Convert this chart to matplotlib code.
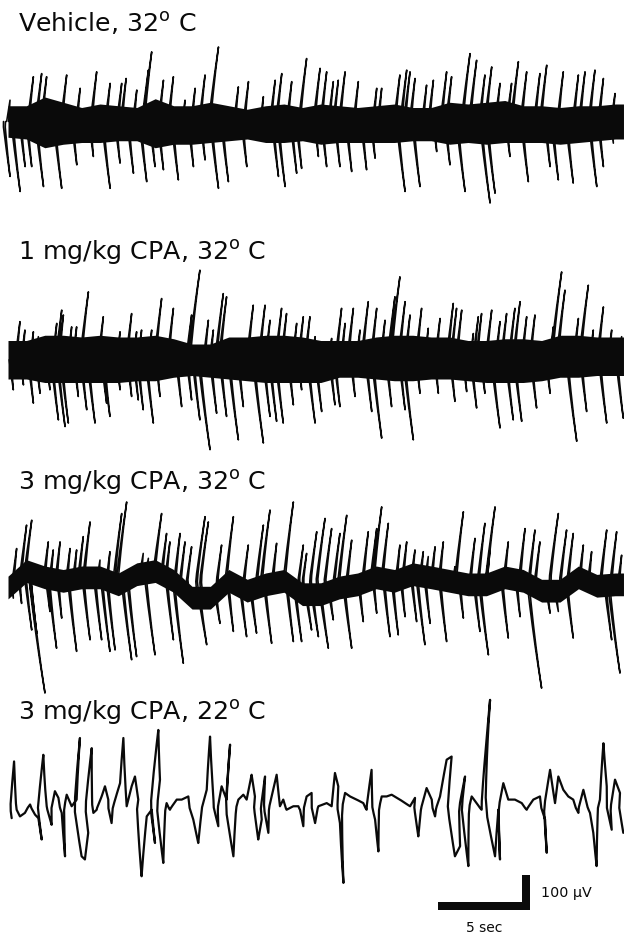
import numpy as np
import matplotlib
matplotlib.use("Agg")
import matplotlib.pyplot as plt

# ---------------------------------------------------------------- data
titles = ["Vehicle, 32$^{\\mathrm{o}}$ C",
          "1 mg/kg CPA, 32$^{\\mathrm{o}}$ C",
          "3 mg/kg CPA, 32$^{\\mathrm{o}}$ C",
          "3 mg/kg CPA, 22$^{\\mathrm{o}}$ C"]

band_sec = [0, 1, 2, 3, 4, 5, 6, 7, 8, 9, 10, 11, 12, 13, 14, 15, 16, 17, 18, 19,
            20, 21, 22, 23, 24, 25, 26, 27, 28, 29, 30, 31, 32, 33, 33.45]

# trace 1 : vehicle, 32 C
tr1_band_hi = [55, 55, 80, 65, 50, 60, 55, 50, 75, 55, 55, 65, 55, 45, 55, 60, 50, 60,
               55, 50, 55, 60, 50, 50, 65, 60, 65, 70, 55, 55, 50, 55, 55, 60, 60]
tr1_band_lo = [-35, -40, -65, -55, -50, -50, -45, -45, -65, -55, -55, -50, -45, -40, -50,
               -50, -45, -55, -50, -50, -50, -50, -45, -45, -55, -50, -55, -50, -50, -50,
               -55, -50, -45, -40, -40]
tr1_up_sec = [0.11, 1.38, 1.83, 2.10, 3.19, 3.92, 4.82, 5.55, 6.18, 6.42, 7.00, 7.63, 7.81,
              8.45, 8.99, 9.62, 10.17, 10.71, 11.44, 12.52, 13.07, 13.88, 14.52, 14.88,
              15.42, 16.23, 16.96, 17.32, 17.68, 17.95, 18.32, 19.04, 20.04, 20.31, 21.30,
              21.67, 21.85, 22.12, 22.75, 23.12, 23.84, 24.11, 25.11, 25.47, 25.92, 26.29,
              26.74, 27.37, 27.74, 28.19, 28.91, 29.28, 30.18, 31.00, 31.36, 31.90, 32.36,
              32.99]
tr1_up_uv = [71, 138, 147, 138, 143, 105, 152, 119, 119, 133, 100, 157, 209, 128, 138, 71,
             105, 143, 223, 109, 124, 81, 128, 147, 124, 190, 162, 152, 124, 128, 152, 124,
             105, 105, 143, 157, 152, 133, 114, 128, 152, 138, 204, 185, 143, 166, 119, 119,
             181, 152, 147, 171, 152, 143, 152, 157, 133, 90]
tr1_dn_sec = [0.11, 0.66, 0.93, 1.29, 1.93, 2.92, 3.74, 4.64, 5.55, 6.09, 6.82, 7.54, 7.99,
              8.45, 9.26, 10.08, 10.71, 11.44, 11.98, 12.98, 14.70, 15.06, 15.69, 15.96,
              16.87, 17.32, 18.04, 18.68, 19.49, 19.95, 21.58, 22.39, 23.30, 24.02, 24.84,
              26.20, 26.47, 27.28, 28.28, 29.46, 29.91, 30.72, 32.00, 32.36, 32.90]
tr1_dn_uv = [-147, -190, -119, -119, -176, -181, -114, -90, -181, -109, -138, -162, -119,
             -128, -157, -119, -100, -181, -162, -119, -147, -176, -138, -124, -90, -119,
             -119, -133, -128, -95, -190, -176, -76, -114, -190, -223, -195, -90, -162,
             -119, -157, -166, -176, -119, -52]

# trace 2 : 1 mg/kg CPA, 32 C
tr2_band_hi = [50, 50, 65, 65, 60, 65, 60, 60, 65, 55, 40, 40, 60, 60, 65, 65, 60, 50,
               50, 50, 60, 65, 65, 60, 60, 50, 50, 55, 55, 50, 65, 65, 60, 60, 60]
tr2_band_lo = [-60, -60, -70, -70, -70, -70, -70, -65, -65, -55, -50, -55, -60, -65, -70,
               -70, -70, -70, -55, -55, -60, -65, -65, -60, -60, -65, -70, -70, -70, -65,
               -55, -55, -50, -50, -50]
tr2_up_sec = [0.65, 0.92, 1.38, 1.65, 2.19, 2.65, 2.92, 3.01, 3.46, 3.73, 4.37, 5.18, 5.54,
              6.09, 6.72, 6.99, 7.26, 7.81, 8.35, 8.99, 9.98, 10.43, 10.89, 11.16, 11.70,
              11.88, 12.52, 13.33, 13.97, 14.24, 14.87, 15.14, 15.69,
              16.05, 16.41, 16.69, 17.59, 18.13, 18.32, 18.77, 19.13, 19.58, 20.04, 20.49,
              21.03, 21.30, 21.58, 21.85, 22.12, 22.48, 22.84, 23.48, 24.20, 24.38, 24.66,
              25.29, 25.56, 25.74, 26.29, 26.74, 27.10, 27.55, 27.83, 28.19, 28.64, 29.09,
              29.64, 30.09, 30.27, 31.00, 31.54, 31.81, 32.36, 32.81, 33.35]
tr2_up_uv = [104, 80, 75, 61, 51, 99, 137, 123, 89, 89, 189, 118, 56, 75, 127, 75, 80, 80,
             170, 142, 123, 251, 108, 80, 184, 175, 47, 151, 151, 108, 142, 127, 99,
             118, 118, 61, 56, 142, 99, 142, 80, 161, 142, 108, 175, 232, 161, 123, 51, 142,
             85, 113, 156, 142, 137, 70, 118, 127, 137, 104, 127, 142, 161, 118, 123, 42, 89,
             246, 194, 113, 208, 80, 146, 80, 61]
tr2_dn_sec = [0.29, 0.84, 1.38, 1.74, 2.28, 2.74, 3.10, 3.28, 3.82, 4.28, 4.73, 5.36, 5.54,
              6.09, 6.72, 7.08, 7.35, 7.90, 8.26, 9.44, 9.98, 10.43, 10.98, 11.34, 11.88,
              12.52, 12.79, 13.88, 14.24, 14.60, 14.96, 15.51,
              15.96, 16.69, 17.05, 17.77, 18.04, 18.86, 19.77, 20.31, 20.85, 21.58, 22.03,
              22.39, 23.39, 24.29, 24.93, 25.47, 25.92, 26.74, 27.46, 27.92, 28.73, 29.46,
              30.91, 31.45, 32.54, 33.44]
tr2_dn_uv = [-91, -77, -129, -101, -91, -177, -196, -186, -110, -148, -186, -129, -167, -91,
             -110, -120, -148, -186, -110, -139, -120, -177, -262, -158, -167, -234, -139,
             -243, -167, -181, -186, -134,
             -91, -186, -153, -134, -139, -110, -153, -229, -139, -148, -234, -101, -101,
             -124, -96, -143, -101, -200, -177, -181, -143, -101, -238, -153, -186, -172]

# trace 3 : 3 mg/kg CPA, 32 C
tr3_band_hi = [11, 58, 40, 30, 40, 40, 20, 49, 58, 30, -18, -18, 30, 2, 20, 30, -8, -8, 11,
               20, 40, 30, 49, 40, 30, 20, 20, 40, 30, 2, 2, 40, 16, 20, 20]
tr3_band_lo = [-54, -7, -25, -35, -25, -25, -45, -16, -7, -35, -83, -83, -35, -63, -45, -35,
               -73, -73, -54, -45, -25, -35, -16, -25, -35, -45, -45, -25, -35, -63, -63,
               -25, -49, -45, -45]
tr3_up_sec = [0.47, 1.01, 1.29, 2.19, 2.46, 2.83, 3.37, 3.73, 4.09, 4.46, 5.00, 5.54, 6.18,
              6.45, 7.17, 7.35, 7.63, 8.35, 8.62, 8.80, 9.35, 9.62, 9.98, 10.71, 10.89,
              11.61, 12.25, 13.06, 13.88, 14.24, 14.60, 15.51,
              16.05, 16.23, 16.78, 17.23, 17.59, 18.04, 18.41, 18.68, 19.58, 20.04, 20.31,
              20.67, 21.30, 21.67, 22.12, 22.57, 22.84, 23.21, 23.66, 24.29, 24.75, 25.38,
              25.92, 26.20, 26.47, 27.19, 28.10, 28.64, 28.91, 29.91, 30.36, 30.72, 31.27,
              31.72, 32.54, 33.08, 33.35]
tr3_up_uv = [90, 157, 171, 109, 86, 109, 90, 86, 124, 166, 57, 81, 190, 223, 38, 76, 62, 190,
             133, 109, 133, 109, 95, 181, 166, 100, 181, 100, 157, 200, 105, 223,
             100, 76, 138, 176, 147, 133, 185, 114, 138, 147, 209, 162, 100, 109, 86, 81, 67,
             95, 109, 38, 195, 119, 162, 90, 209, 109, 147, 143, 109, 190, 143, 133, 100, 81,
             143, 138, 71]
tr3_dn_sec = [0.29, 0.74, 1.29, 1.56, 2.01, 2.28, 2.64, 2.92, 3.73, 4.46, 5.09, 5.54, 5.82,
              6.72, 6.99, 7.99, 8.99, 9.53, 10.80, 11.52, 12.25, 12.97, 13.51, 14.33, 15.51,
              15.96, 16.50, 16.87, 17.41, 17.68, 18.68, 19.31, 20.04, 20.76, 21.21, 21.58,
              22.21, 22.66, 22.94, 23.84, 24.75, 25.65, 26.11, 27.19, 27.83, 29.00, 29.46,
              29.91, 30.72, 32.81, 33.26]
tr3_dn_uv = [-52, -67, -143, -152, -323, -90, -195, -109, -204, -171, -171, -204, -200,
             -228, -219, -214, -171, -238, -185, -124, -147, -162, -152, -181, -176,
             -176, -143, -162, -195, -114, -195, -119, -95, -162, -157, -105, -119, -185,
             -124, -176, -109, -147, -214, -166, -105, -309, -95, -90, -166, -171, -266]

# trace 4 : 3 mg/kg CPA, 22 C (single pen line, positions as seen on the paper)
tr4_sec = [0.20, 0.33, 0.47, 0.65, 0.92, 1.20, 1.47, 1.65, 1.83, 1.92,
           2.01, 2.19, 2.37, 2.55, 2.74, 2.92, 3.10, 3.19, 3.46, 3.73,
           3.91, 4.00, 4.18, 4.36, 4.55, 4.64, 4.82, 5.09, 5.27, 5.45,
           5.63, 5.82, 6.09, 6.27, 6.45, 6.72, 6.90, 7.08, 7.26, 7.54,
           7.81, 7.99, 8.17, 8.26, 8.44, 8.62, 8.80, 9.17, 9.44, 9.80,
           10.07, 10.34, 10.53, 10.80, 10.98, 11.16, 11.43, 11.61, 11.88, 12.07,
           12.25, 12.52, 12.79, 12.97, 13.24, 13.42, 13.60, 13.79, 13.97, 14.15,
           14.33, 14.60, 14.78, 14.96, 15.14, 15.51, 15.78,
           15.87, 16.05, 16.23, 16.50, 16.69, 16.87, 17.32, 17.59, 17.77, 17.95,
           18.04, 18.23, 18.32, 18.59, 18.95, 19.31, 19.49, 19.76, 19.95, 20.13,
           20.31, 20.58, 20.85, 21.30, 21.58, 21.85, 22.12, 22.30, 22.48, 22.75,
           23.03, 23.21, 23.48, 23.84, 24.11, 24.29, 24.57, 24.84, 25.02, 25.20,
           25.47, 25.74, 26.01, 26.20, 26.47, 26.65, 26.74, 26.92, 27.19, 27.55,
           27.92, 28.19, 28.55, 28.91, 29.19, 29.28, 29.46, 29.73, 29.91, 30.18,
           30.45, 30.72, 31.00, 31.27, 31.63, 31.81, 31.99, 32.17, 32.36, 32.54,
           32.81, 32.99, 33.26, 33.44]
tr4_uv = [-29, 133, -5, -24, -14, 10, -19, -29, -90, 152,
          62, -14, -48, 48, 29, -14, -138, 38, 5, 24,
          200, -138, -147, -71, 171, -14, -5, 33, 62, 24,
          -43, 24, 71, 200, 5, 62, 90, 24, -195, -24,
          -5, -100, 223, 81, -157, 14, -5, 24, 24, 33,
          -33, -100, -5, 52, 204, 33, -52, 62, 24, 181,
          -138, 24, 38, 24, 95, 33, -90, -33, 90, -71,
          33, 95, 5, 24, -5, 5, 5,
          -5, -52, 33, 43, -43, 5, 14, 5, 100, 62,
          -43, -214, 43, 33, 24, 14, -5, 109, -33, -124,
          33, 33, 38, 24, 14, 5, 29, -81, 5, 57,
          24, -24, 33, 138, 147, -138, -109, 90, -166, 33,
          14, -5, 195, 309, -138, -5, -147, 71, 24, 24,
          14, -5, 24, 33, -33, -128, 109, 14, 90, 52,
          33, 24, -14, 52, -14, -71, -166, 24, 185, 62,
          -62, 81, 43, -71]

scale_sec = 5
scale_uv = 100
scale_labels = ["100 \u03bcV", "5 sec"]

# ---------------------------------------------------------------- layout / style
W, H, DPI = 624, 936, 100
X0_PX = 8
PX_PER_SEC = 18.4
PX_PER_UV = 0.35
CENTERS_PX = [125, 358, 580, 808]
HALF_PX = 130
PEN_R_PX = 2000.0      # pen arm radius (slight curvature of the strokes)
PEN_TILT = 0.10        # slant of the strokes
INK = "#0a0a0a"
TITLE_X_PX = 18
TITLE_BASE_PX = [32, 260, 490, 720]

plt.rcParams["font.family"] = ["DejaVu Sans"]
plt.rcParams["mathtext.fontset"] = "dejavusans"

fig = plt.figure(figsize=(W / DPI, H / DPI), dpi=DPI)
fig.patch.set_facecolor("white")


def make_axes(center_px):
    ax = fig.add_axes([X0_PX / W, 1 - (center_px + HALF_PX) / H,
                       (W - X0_PX) / W, 2 * HALF_PX / H])
    ax.set_xlim(0, (W - X0_PX) / PX_PER_SEC)
    half_uv = HALF_PX / PX_PER_UV
    ax.set_ylim(-half_uv, half_uv)
    ax.set_axis_off()
    ax.patch.set_alpha(0)
    return ax


def arc_sec(v):
    d = np.abs(np.asarray(v, dtype=float)) * PX_PER_UV
    return (PEN_TILT * d + d ** 2 / (2 * PEN_R_PX)) / PX_PER_SEC


def pen_path(ts, vs, n=8):
    """Polyline drawn the way an ink-writing pen does (slanted strokes).
    ts are positions on the paper; the pen offset is removed then re-applied
    along every segment."""
    ts = np.asarray(ts, float)
    vs = np.asarray(vs, float)
    te = ts - arc_sec(vs)
    f = np.linspace(0, 1, n, endpoint=False)
    xs, ys = [], []
    for i in range(len(te) - 1):
        tt = te[i] + (te[i + 1] - te[i]) * f
        vv = vs[i] + (vs[i + 1] - vs[i]) * f
        xs.extend(list(tt + arc_sec(vv)))
        ys.extend(list(vv))
    xs.append(ts[-1])
    ys.append(vs[-1])
    return xs, ys


def pen_strokes(ax, tips_t, tips_v, base_curve, lw=1.15):
    """Each deflection: from inside the band out to the tip and back."""
    xs, ys = [], []
    for t, v in zip(tips_t, tips_v):
        te = t - arc_sec(v)
        b = float(np.interp(te, band_sec, base_curve))
        px, py = pen_path([te - 0.04, t, te + 0.07], [b, v, b], n=10)
        xs.extend(px + [np.nan])
        ys.extend(py + [np.nan])
    ax.plot(xs, ys, color=INK, lw=lw, solid_capstyle="round",
            solid_joinstyle="round", clip_on=False)


band_traces = [
    (tr1_band_hi, tr1_band_lo, tr1_up_sec, tr1_up_uv, tr1_dn_sec, tr1_dn_uv),
    (tr2_band_hi, tr2_band_lo, tr2_up_sec, tr2_up_uv, tr2_dn_sec, tr2_dn_uv),
    (tr3_band_hi, tr3_band_lo, tr3_up_sec, tr3_up_uv, tr3_dn_sec, tr3_dn_uv),
]

axes = [make_axes(c) for c in CENTERS_PX]

for ax, (hi, lo, ut, uv, dt, dv) in zip(axes[:3], band_traces):
    hi = np.array(hi, float)
    lo = np.array(lo, float)
    mid = (hi + lo) / 2
    ax.fill_between(band_sec, lo, hi, color=INK, lw=0, clip_on=False)
    pen_strokes(ax, ut, uv, mid)
    pen_strokes(ax, dt, dv, mid)

ax4 = axes[3]
x4, y4 = pen_path(tr4_sec, tr4_uv)
ax4.plot(x4, y4, color=INK, lw=1.6, solid_joinstyle="round",
         solid_capstyle="round", clip_on=False)

# scale bar (in trace-4 data units)
bar_lw_pt = 8 * 72 / DPI
bar_right = (530 - X0_PX) / PX_PER_SEC
bar_y = (CENTERS_PX[3] - 906) / PX_PER_UV
ax4.plot([bar_right - scale_sec, bar_right], [bar_y, bar_y], color=INK,
         lw=bar_lw_pt, solid_capstyle="butt", clip_on=False)
vbar_x = (526 - X0_PX) / PX_PER_SEC
vbar_bottom = (CENTERS_PX[3] - 910) / PX_PER_UV
ax4.plot([vbar_x, vbar_x], [vbar_bottom, vbar_bottom + scale_uv], color=INK,
         lw=bar_lw_pt, solid_capstyle="butt", clip_on=False)

fig.text(541 / W, 1 - 893 / H, scale_labels[0], fontsize=10.3, color=INK,
         ha="left", va="center")
fig.text(484 / W, 1 - 928 / H, scale_labels[1], fontsize=10, color=INK,
         ha="center", va="center")

for title, base in zip(titles, TITLE_BASE_PX):
    fig.text(TITLE_X_PX / W, 1 - base / H, title, fontsize=18.2, color=INK,
             ha="left", va="baseline")

fig.savefig("out.png", dpi=DPI, facecolor="white")
